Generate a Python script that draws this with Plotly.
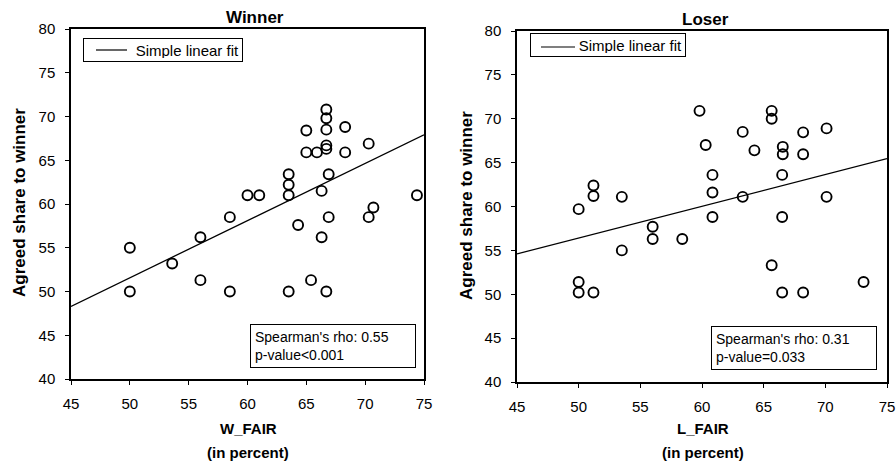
import plotly.graph_objects as go

# ---- Data ----
w_fair = [66.7, 66.7, 66.7, 66.7, 66.7, 65.0, 65.0, 65.9, 68.3, 68.3, 70.3, 66.9,
          63.5, 63.5, 63.5, 66.3, 60.0, 61.0, 74.4, 58.5, 64.3, 66.9, 70.3, 70.7,
          56.0, 66.3, 50.0, 50.0, 53.6, 56.0, 58.5, 63.5, 65.4, 66.7]
w_share = [70.8, 69.8, 68.5, 66.7, 66.3, 68.4, 65.9, 65.9, 68.8, 65.9, 66.9, 63.4,
           63.4, 62.2, 61.0, 61.5, 61.0, 61.0, 61.0, 58.5, 57.6, 58.5, 58.5, 59.6,
           56.2, 56.2, 55.0, 50.0, 53.2, 51.3, 50.0, 50.0, 51.3, 50.0]

l_fair = [59.8, 60.3, 65.65, 65.65, 63.3, 64.25, 66.55, 66.55, 68.2, 68.2, 70.1, 60.85,
          66.5, 60.85, 63.3, 70.1, 50.0, 51.2, 51.2, 53.5, 60.85, 66.5, 56.0, 56.0,
          58.4, 53.5, 50.0, 50.0, 51.2, 65.65, 66.5, 68.2, 73.1]
l_share = [70.9, 67.0, 70.9, 70.0, 68.5, 66.4, 66.8, 65.95, 68.45, 65.95, 68.9, 63.6,
           63.6, 61.6, 61.1, 61.1, 59.7, 62.4, 61.2, 61.1, 58.8, 58.8, 57.7, 56.3,
           56.3, 55.0, 51.4, 50.2, 50.2, 53.3, 50.2, 50.2, 51.4]

fit_x = [45, 75]
w_fit_y = [48.3, 67.9]
l_fit_y = [54.6, 65.45]

fit_label = "Simple linear fit"

W_W, H_H = 896, 465
FONT = "Arial, Liberation Sans, sans-serif"

def px(x):
    return x / W_W

def py(y):
    return 1 - y / H_H

fig = go.Figure()

marker = dict(symbol="circle-open", size=10, color="black", line=dict(width=1.9, color="black"))

fig.add_trace(go.Scatter(x=w_fair, y=w_share, mode="markers", marker=marker,
                         showlegend=False, xaxis="x", yaxis="y"))
fig.add_trace(go.Scatter(x=fit_x, y=w_fit_y, mode="lines", line=dict(color="black", width=1.3),
                         name=fit_label, showlegend=False, xaxis="x", yaxis="y"))
fig.add_trace(go.Scatter(x=l_fair, y=l_share, mode="markers", marker=marker,
                         showlegend=False, xaxis="x2", yaxis="y2"))
fig.add_trace(go.Scatter(x=fit_x, y=l_fit_y, mode="lines", line=dict(color="black", width=1.3),
                         name=fit_label, showlegend=False, xaxis="x2", yaxis="y2"))

axis_common = dict(showline=True, mirror=True, linecolor="black", linewidth=1.5,
                   ticks="outside", ticklen=4, tickcolor="black", tickwidth=1.2,
                   showgrid=False, zeroline=False, dtick=5,
                   tickfont=dict(family=FONT, size=15, color="black"))

fig.update_layout(
    width=W_W, height=H_H,
    margin=dict(l=0, r=0, t=0, b=0, autoexpand=False),
    paper_bgcolor="white", plot_bgcolor="white",
    font=dict(family=FONT, color="black"),
    showlegend=False,
    xaxis=dict(domain=[px(71), px(424)], range=[45, 75], anchor="y",
               ticklabelstandoff=6, **axis_common),
    yaxis=dict(domain=[py(379), py(29)], range=[40, 80], anchor="x",
               ticklabelstandoff=7, **axis_common),
    xaxis2=dict(domain=[px(517), px(887)], range=[45, 75], anchor="y2",
                ticklabelstandoff=6, **axis_common),
    yaxis2=dict(domain=[py(382), py(31)], range=[40, 80], anchor="x2",
                ticklabelstandoff=7, **axis_common),
)

bold = lambda s: f"<b>{s}</b>"
ann = []
# titles
ann.append(dict(text=bold("Winner"), x=px(255), y=py(18), font=dict(size=17)))
ann.append(dict(text=bold("Loser"), x=px(705), y=py(19), font=dict(size=17)))
# x titles
ann.append(dict(text=bold("W_FAIR"), x=px(248), y=py(428), font=dict(size=15)))
ann.append(dict(text=bold("(in percent)"), x=px(248), y=py(452), font=dict(size=15)))
ann.append(dict(text=bold("L_FAIR"), x=px(703), y=py(428), font=dict(size=15)))
ann.append(dict(text=bold("(in percent)"), x=px(703), y=py(452), font=dict(size=15)))
# y titles
ann.append(dict(text=bold("Agreed share to winner"), x=px(20), y=py(203), textangle=-90,
                font=dict(size=17)))
ann.append(dict(text=bold("Agreed share to winner"), x=px(466), y=py(206), textangle=-90,
                font=dict(size=17)))
for a in ann:
    a.update(xref="paper", yref="paper", showarrow=False, xanchor="center", yanchor="middle")
    a["font"].update(family=FONT, color="black")

# stats boxes
stats = [
    dict(text="Spearman's rho: 0.55<br>p-value&lt;0.001", x=px(250), y=py(324)),
    dict(text="Spearman's rho: 0.31<br>p-value=0.033", x=px(711), y=py(326)),
]
for s in stats:
    s.update(xref="paper", yref="paper", showarrow=False, xanchor="left", yanchor="top",
             align="left", bordercolor="black", borderwidth=1, borderpad=4, bgcolor="white",
             width=156, height=34, font=dict(family=FONT, size=14, color="black"))
    ann.append(s)

# legend boxes (box + label + line key), one per panel
legend_boxes = [
    dict(x0=83, y0=38, x1=243, key=(96, 127), ky=50),
    dict(x0=530, y0=33, x1=686, key=(541, 575), ky=47),
]
shapes = []
for lb in legend_boxes:
    w = lb["x1"] - lb["x0"] - 8
    ann.append(dict(text=fit_label, xref="paper", yref="paper", showarrow=False,
                    x=px(lb["x0"]), y=py(lb["y0"]), xanchor="left", yanchor="top",
                    align="right", width=w, height=16, borderpad=3, borderwidth=1,
                    bordercolor="black", bgcolor="rgba(0,0,0,0)",
                    font=dict(family=FONT, size=15, color="black")))
    shapes.append(dict(type="line", xref="paper", yref="paper",
                       x0=px(lb["key"][0]), x1=px(lb["key"][1]),
                       y0=py(lb["ky"]), y1=py(lb["ky"]),
                       line=dict(color="black", width=1.2), layer="above"))

fig.update_layout(annotations=ann, shapes=shapes)

fig.write_html("out.html", config={"displayModeBar": False},
               post_script="document.body.style.margin='0px';")
